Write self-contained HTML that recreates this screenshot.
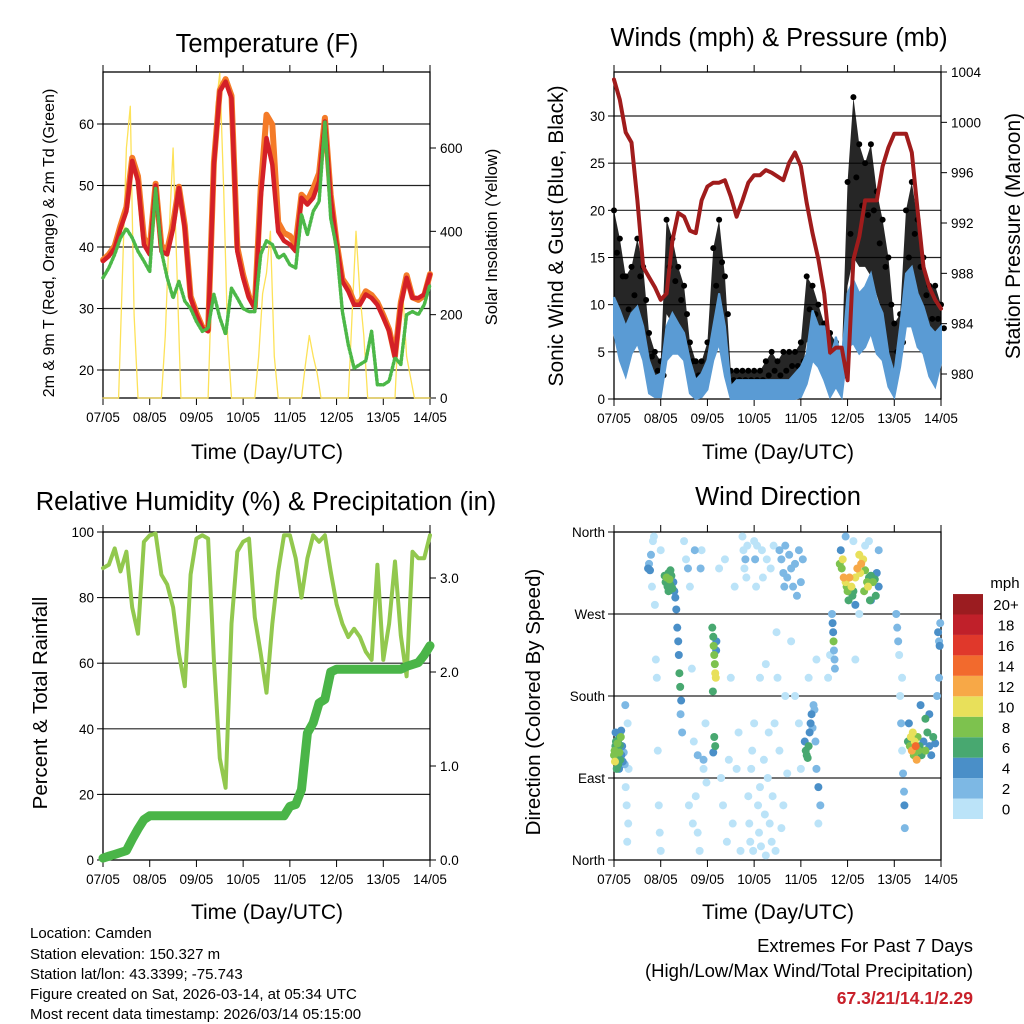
<!DOCTYPE html>
<html><head><meta charset="utf-8"><style>
html,body{margin:0;padding:0;background:#fff;}
svg{display:block;font-family:"Liberation Sans",Arial,sans-serif;}
</style></head><body>
<svg id="chart" width="1024" height="1024" viewBox="0 0 1024 1024" xmlns="http://www.w3.org/2000/svg">
<rect width="1024" height="1024" fill="#fff"/>
<text x="267" y="52" font-size="25.5" text-anchor="middle">Temperature (F)</text>
<text x="779" y="46" font-size="25.5" text-anchor="middle">Winds (mph) &amp; Pressure (mb)</text>
<text x="266" y="510" font-size="25.5" text-anchor="middle">Relative Humidity (%) &amp; Precipitation (in)</text>
<text x="778" y="505" font-size="25.5" text-anchor="middle">Wind Direction</text>
<text transform="translate(54,243) rotate(-90)" font-size="16" text-anchor="middle">2m &amp; 9m T (Red, Orange) &amp; 2m Td (Green)</text>
<text transform="translate(497,237) rotate(-90)" font-size="16.5" text-anchor="middle">Solar Insolation (Yellow)</text>
<text transform="translate(563,236) rotate(-90)" font-size="21" text-anchor="middle">Sonic Wind &amp; Gust (Blue, Black)</text>
<text transform="translate(1020,236) rotate(-90)" font-size="21" text-anchor="middle">Station Pressure (Maroon)</text>
<text transform="translate(47,703) rotate(-90)" font-size="20.5" text-anchor="middle">Percent &amp; Total Rainfall</text>
<text transform="translate(540,702) rotate(-90)" font-size="20.5" text-anchor="middle">Direction (Colored By Speed)</text>
<text x="267" y="459" font-size="21" text-anchor="middle">Time (Day/UTC)</text>
<text x="778" y="459" font-size="21" text-anchor="middle">Time (Day/UTC)</text>
<text x="267" y="919" font-size="21" text-anchor="middle">Time (Day/UTC)</text>
<text x="778" y="919" font-size="21" text-anchor="middle">Time (Day/UTC)</text>
<g font-size="15">
<text x="30" y="938">Location: Camden</text>
<text x="30" y="959">Station elevation: 150.327 m</text>
<text x="30" y="979">Station lat/lon: 43.3399; -75.743</text>
<text x="30" y="999">Figure created on Sat, 2026-03-14, at 05:34 UTC</text>
<text x="30" y="1019">Most recent data timestamp: 2026/03/14 05:15:00</text>
</g>
<g font-size="18.5" text-anchor="end">
<text x="973" y="952">Extremes For Past 7 Days</text>
<text x="973" y="977">(High/Low/Max Wind/Total Precipitation)</text>
<text x="973" y="1004" fill="#C8202A" font-weight="bold" font-size="17.5">67.3/21/14.1/2.29</text>
</g>
<text x="1005" y="588" font-size="15" text-anchor="middle">mph</text>
</svg>
<script>
// ---- data (3-hourly, t = index*3 h from 07/05 00 UTC) ----
const dayLabels = ["07/05","08/05","09/05","10/05","11/05","12/05","13/05","14/05"];
const temp2m = [37.7,38.5,39.8,43,45.8,54,50.7,40.4,38.8,50,39.3,38.8,43,49.6,43,31.7,29,26.8,26.3,53.4,65.3,66.9,64.2,39.3,35,31.7,30,48,57.7,53.4,42.5,41,40.4,39.3,48,46.9,48,50.7,60.4,48,40.4,34.4,32.8,30.6,30.6,32.3,31.7,30.6,28.5,26.3,22,30.6,35,31.7,31.7,32.3,35.5];
const temp9m = [37.9,38.8,40.2,43.5,46.5,54.5,51.5,41.5,39.8,50.3,40.2,39.5,43.8,49.8,43.5,32,29.3,27,26.5,53.8,65.5,67.3,64.6,40,35.5,32,30.3,49.5,61.5,59.9,44,42.3,41.8,40.5,48.5,47.5,49.5,52,61,48.5,40.8,34.8,33.4,31,31,32.8,32.2,31,28.9,26.6,22.3,31,35.4,31.8,31.4,32.1,35.6];
const dewpt = [35,36.6,38.8,41.5,43,41.5,39.3,37.7,36,49.6,39.3,35,31.7,34.4,31.2,30,27.9,26.3,26.8,32.3,28.5,25.8,33.3,31.7,30,29.5,29.5,38.8,41,40.4,38.2,38.8,37.1,36.6,45.3,42,45.8,47.4,60.4,44.7,39.8,29.5,24.1,20.3,20.9,21.5,26.3,17.6,17.6,18.2,22,20.9,29,29.5,29,30.6,33.9];
const solar = [0,0,0,0,0,300,600,700,200,0,0,0,0,0,0,0,150,400,600,300,0,0,0,0,0,0,0,0,300,700,780,500,150,0,0,0,0,0,0,0,100,250,300,400,100,0,0,0,0,0,0,0,80,150,100,60,0,0,0,0,0,0,0,0,200,400,250,150,0,0,0,0,0,0,0,0,200,250,100,50,0,0,0,0,0]; // 2-hourly
const pressure = [1003.4,1001.8,999.2,998.4,993.8,988.5,987.7,986.9,985.9,986.4,990.6,992.8,992.5,991.4,991.2,993.8,994.9,995.2,995.2,995.4,994.1,992.5,993.8,995.2,995.8,995.8,996.2,996,995.7,995.4,996.8,997.6,996.5,993.6,991.2,989.1,986.4,981.7,982.1,982.1,979.5,989.1,990.9,993.8,993.8,993.8,996.5,998,999.1,999.1,999.1,997.6,993,988.5,986.9,985.9,985.2];
const windHi = [10.8,9.4,7.7,9.1,9.8,7.7,4.1,2.4,2.7,7.7,9.1,8,7,4.1,2,2.7,4.1,7.7,11.2,7.7,1.3,2,2,2,2,2,2,2,2,2,2,2.7,3.4,4.8,9.4,7.7,7.7,4.1,6.6,4.1,11.2,12.6,11.2,11.9,13.3,10.5,9.1,4.8,2.7,7.7,13.3,14,11.2,9.8,7.7,7,7.7];
const windLo = [7,4.1,2.4,4.8,5.9,4.1,0.6,0.2,0.2,4.1,4.8,4.8,4.1,0.6,0,0.2,1,4.1,5.9,2.4,0,0,0,0,0,0,0,0,0,0,0,0,0.2,1.6,4.1,3.4,2,0.2,1.3,0.2,5.5,5.9,4.8,5.5,7,4.8,4.1,1.3,0.2,3.4,7.7,7.7,5.5,4.8,2.4,1.3,3.8];
const gustHi = [20,17,13,14,17,14,7,5,4,19,17,14,12,6,4,4,6,16,19,13,3,3,3,3,3,3,4,5,4,5,5,5,6,13,12,10,8,7,6,4,23,32,27,25,27,22,19,15,8,9,20,23,19,15,12,12,10];
const gustLo = [11,9,6,8,9,7,2,1,1,9,8,7,6,2,1,1,2,8,10,5,1,1,1,1,1,1,1,1,1,1,2,2,2,6,6,4,3,2,3,1,12,15,14,14,13,11,9,5,2,3,10,12,9,7,5,5,5];
const rhPct = [89,90,95,88,94,77,69,97,99,99.5,87,84,77,63,53,87,98,99,98,61,31,22,72,94,97,98,74,63,51,72,88,99,99,92,80,92,99,97,99,88,78,72,68,70.5,68,63.5,61,90,61,72,91,68.5,56,94,92,92,99];
const rainIn = [0.02,0.04,0.06,0.08,0.1,0.22,0.33,0.43,0.47,0.47,0.47,0.47,0.47,0.47,0.47,0.47,0.47,0.47,0.47,0.47,0.47,0.47,0.47,0.47,0.47,0.47,0.47,0.47,0.47,0.47,0.47,0.47,0.57,0.59,0.75,1.35,1.46,1.67,1.71,2.0,2.03,2.03,2.03,2.03,2.03,2.03,2.03,2.03,2.03,2.03,2.03,2.03,2.06,2.08,2.1,2.18,2.28];
const dirObs = [[0,115,9],[0.3,120,8],[0.5,108,10],[0.7,125,7],[1,130,7],[1.2,118,6],[1.5,112,7],[1.8,128,8],[2,122,6],[2.2,105,7],[2.5,133,7],[2.8,118,8],[3,126,7],[3.2,110,6],[3.5,135,8],[1.4,100,6],[2.6,100,5],[3.8,115,5],[4.2,125,4],[4.5,108,4],[3.7,142,4],[0.8,140,4],[5,118,3],[5.5,105,2],
[6,80,1],[6.5,60,1],[7,150,1],[7.3,40,1],[5.8,170,2],[6.8,20,1],[7.5,100,1],
[17.5,320,4],[18,325,3],[18.5,318,4],[19,335,2],[19.5,300,1],[20,350,1],[20.5,355,1],[21,280,1],[21.5,220,1],[22,200,1],[22.5,120,1],[23,60,1],[23.5,30,1],[24,10,1],[24,340,1],
[26,312,6],[26.5,305,7],[27,310,8],[27.5,300,7],[28,315,7],[28.5,308,8],[29,302,7],[29.5,312,6],[30,298,6],[30.5,305,5],[31,295,4],[31.5,288,4],[28,295,6],[29,318,6],
[32,275,4],[32.5,255,4],[33,240,4],[33.3,225,5],[33.6,205,6],[34,190,6],[34.5,175,4],[34.2,160,3],[35,140,3],
[36,350,1],[37,330,1],[38,320,2],[39,300,1],[40,210,1],[41,130,1],[42,70,1],[43,30,1],[44,10,1],[45,340,1],[46,100,1],[47,150,1],[44.5,320,2],[46,110,2],[47.5,85,1],[38.5,60,1],[40.5,40,1],[43,115,3],[41.5,340,2],
[50.5,255,6],[51,245,7],[51.2,235,8],[51.5,225,9],[51.8,215,9],[52,205,10],[52.3,200,10],[52.6,240,5],[52,125,6],[51.5,135,6],[51,118,5],[52.5,230,4],[50.8,185,6],
[54,320,1],[55,90,1],[56,60,1],[57,330,1],[58,20,1],[59,110,1],[60,200,1],[61,40,1],[62,300,1],[63,100,1],[64,140,1],[65,10,1],
[66,355,1],[66.5,340,1],[67,320,1],[67.5,330,2],[68,310,1],[68.5,345,1],[69,70,1],[69.5,40,1],[70,20,1],[70.5,100,1],[71,120,1],[71.5,10,1],[72,350,1],[72.5,330,2],[73,300,1],[73.5,345,1],[74,60,1],[74.5,30,1],[75,80,1],[75.5,15,1],[76,340,1],[76.5,310,1],[77,110,1],[77.5,50,1],[78,5,1],[78.5,330,1],[79,90,1],[79.5,140,1],[80,40,1],[80.5,320,1],[81,20,1],[81.5,70,1],[82,345,1],[82.5,150,1],[83,10,1],[83.5,250,1],[84,200,1],[85,120,1],[86,35,1],[87,60,1],[88,180,1],[89,95,1],[72,150,1],[75,200,1],[78,215,1],
[85,340,3],[86,330,2],[87,315,3],[87.5,300,3],[88,345,2],[89,310,3],[90,335,2],[91,320,3],[92,300,3],[93,325,2],[94,290,2],[95,340,3],[96,305,2],[97,330,2],[91,240,1],[93,180,1],[95,150,1],[96,100,1],
[98,130,4],[98.5,120,6],[99,115,7],[99.5,112,6],[100,125,6],[100.5,140,4],[101,150,5],[101.5,160,4],[102,145,3],[102.5,170,3],[103,165,2],[103.5,130,2],[104,100,2],[105,80,4],[106,60,2],[104,220,1],[100,200,1],[105,40,1],
[112,270,3],[112.3,260,4],[112.6,250,5],[112.8,240,8],[113,230,3],[113.3,220,2],[113.5,210,2],[111,225,1],[110,200,1],
[116,325,8],[117,320,9],[117.5,330,10],[118,310,12],[119,305,10],[119.5,300,8],[120,295,9],[121,310,12],[122,300,10],[122.5,290,6],[123,295,7],[124,310,10],[125,320,12],[126,335,11],[126.5,315,10],[127,325,12],[128,330,10],[129,318,8],[130,305,9],[130.5,300,10],[131,310,7],[132,312,6],[133,305,8],[134,308,6],[135,315,5],[136,300,4],[134.5,290,6],[131.5,285,6],[120.5,285,6],[116.5,340,4],[124,280,5],[128.5,295,9],
[119,355,2],[123,350,1],[126,270,1],[129,345,1],[131,350,1],[136,340,2],[132,285,4],[124,220,1],
[145,270,3],[145.5,255,2],[146,240,2],[146.5,225,1],[147,180,1],[147.5,150,2],[148,120,1],[148.5,95,2],[149,75,3],[149.2,60,4],[149.4,35,2],[148,200,1],
[151,130,6],[152,125,8],[152.5,135,10],[153,120,12],[153.5,140,11],[154,115,8],[154.5,130,10],[155,125,14],[155.5,110,12],[156,135,9],[156.5,120,8],[157,125,6],[158,115,7],[159,130,5],[160,120,8],[161,140,6],[162,125,4],[163,115,5],[164,135,6],[165,128,4],[151.5,150,4],[157.5,170,5],[160,155,6],[162,160,4],
[166.5,250,4],[167,240,3],[167.3,235,4],[167.6,260,3],[166,180,3],[167,200,2]];
const speedColors = ["#BBE3F8","#7DB8E4","#4A8FC8","#48A870","#7DC24E","#E8E05A","#F7A847","#F26A2D","#E0382B","#C0202A","#9B1C20"];
const speedLabels = ["0","2","4","6","8","10","12","14","16","18","20+"];
const tempTicks = [20,30,40,50,60];
const solarTicks = [0,200,400,600];
const windTicks = [0,5,10,15,20,25,30];
const presTicks = [980,984,988,992,996,1000,1004];
const rhTicks = [0,20,40,60,80,100];
const rainTicks = [0,1,2,3];
const dirTicks = [0,90,180,270,360];
const dirLabels = ["North","East","South","West","North"];

const svg = document.getElementById('chart');
const NS = 'http://www.w3.org/2000/svg';
function mk(tag, attrs, parent){const e=document.createElementNS(NS,tag);for(const k in attrs)e.setAttribute(k,attrs[k]);(parent||svg).appendChild(e);return e;}
function lin(d0,d1,p0,p1){return v=>p0+(v-d0)/(d1-d0)*(p1-p0);}

function frame(name,x0,x1,y0,y1,ly,lticks,lfmt,ry,rticks,rfmt,grid){
  const g=mk('g',{});
  
  
  const xs=lin(0,168,x0,x1);
  grid.forEach(v=>{const y=ly(v);if(y>y0+1&&y<y1-1){const l=mk('line',{x1:x0,x2:x1,y1:y,y2:y,stroke:'#222','stroke-width':1.2},g);
    
    }});
  mk('rect',{x:x0,y:y0,width:x1-x0,height:y1-y0,fill:'none',stroke:'#000','stroke-width':1.3},g);
  dayLabels.forEach((d,i)=>{const x=xs(i*24);
    mk('line',{x1:x,x2:x,y1:y1,y2:y1+7,stroke:'#000'},g);mk('line',{x1:x,x2:x,y1:y0,y2:y0-7,stroke:'#000'},g);
    const t=mk('text',{x:x,y:y1+24,'font-size':13.5,'text-anchor':'middle'},g);t.textContent=d;
    
    });
  lticks.forEach((v,i)=>{const y=ly(v);mk('line',{x1:x0-6,x2:x0,y1:y,y2:y,stroke:'#000'},g);
    const t=mk('text',{x:x0-9,y:y+5,'font-size':13.5,'text-anchor':'end'},g);t.textContent=lfmt(v,i);
    
    });
  if(ry){rticks.forEach((v,i)=>{const y=ry(v);mk('line',{x1:x1,x2:x1+6,y1:y,y2:y,stroke:'#000'},g);
    const t=mk('text',{x:x1+10,y:y+5,'font-size':13.5},g);t.textContent=rfmt(v);
    
    });}
  return xs;
}
function poly(pts,attrs,name){const p=mk('polyline',Object.assign({points:pts.map(p=>p[0].toFixed(1)+','+p[1].toFixed(1)).join(' '),fill:'none','stroke-linejoin':'round','stroke-linecap':'round'},attrs));
  
  return p;}

// Panel 1 temperature
const ty=lin(20,60,370,124), sy=lin(0,600,398,148);
const xs1=frame('temperature',103,430,72,398,ty,tempTicks,v=>v,sy,solarTicks,v=>v,tempTicks);
poly(solar.map((v,i)=>[xs1(i*2),sy(v)]),{stroke:'#FDE258','stroke-width':1.3},'solar-line');
poly(temp9m.map((v,i)=>[xs1(i*3),ty(v)]),{stroke:'#F47B28','stroke-width':6},'temp-9m-line');
poly(temp2m.map((v,i)=>[xs1(i*3),ty(v)]),{stroke:'#D42027','stroke-width':4.5},'temp-2m-line');
poly(dewpt.map((v,i)=>[xs1(i*3),ty(v)]),{stroke:'#4CB848','stroke-width':3.5,'stroke-dasharray':'2 2'},'dewpoint-line');

// Panel 2 winds
const wy=lin(0,30,399,116), py=lin(980,1004,374,72);
const xs2=frame('winds',614,941,72,399,wy,windTicks,v=>v,py,presTicks,v=>v,[5,10,15,20,25,30]);
const gband=gustHi.map((v,i)=>[xs2(i*3),wy(v)]).concat(gustLo.map((v,i)=>[xs2(i*3),wy(v)]).reverse());
const gb=mk('polygon',{points:gband.map(p=>p.join(',')).join(' '),fill:'#000','fill-opacity':0.85});


gustHi.forEach((v,i)=>{
  const c=mk('circle',{cx:xs2(i*3),cy:wy(v),r:3,fill:'#000'});
  
  
  const m=mk('circle',{cx:xs2(i*3+1.5),cy:wy((v+gustLo[i])/2),r:3,fill:'#000'});
  
  });
const wband=windHi.map((v,i)=>[xs2(i*3),wy(v)]).concat(windLo.map((v,i)=>[xs2(i*3),wy(v)]).reverse());
const wb=mk('polygon',{points:wband.map(p=>p.join(',')).join(' '),fill:'#5A9BD4',stroke:'#5A9BD4','stroke-width':2});


poly(pressure.map((v,i)=>[xs2(i*3),py(v)]),{stroke:'#A01C1C','stroke-width':4},'pressure-line');

// Panel 3 RH & rain
const hy=lin(0,100,860,532), ry=lin(0,1,860,766);
const xs3=frame('humidity',103,430,532,860,hy,rhTicks,v=>v,ry,rainTicks,v=>v.toFixed(1),[20,40,60,80]);
poly(rhPct.map((v,i)=>[xs3(i*3),hy(v)]),{stroke:'#92C84E','stroke-width':4},'rh-line');
poly(rainIn.map((v,i)=>[xs3(i*3),ry(v)]),{stroke:'#4AB548','stroke-width':9},'rain-line');

// Panel 4 wind direction
const dy=lin(0,360,860,532);
const xs4=frame('direction',614,941,532,860,dy,dirTicks,(v,i)=>dirLabels[i],null,[],null,[90,180,270]);
const sorted=dirObs.slice().sort((a,b)=>a[2]-b[2]);
sorted.forEach(o=>{const bin=Math.min(10,Math.floor(o[2]/2));
  const c=mk('circle',{cx:xs4(o[0]),cy:dy(o[1]),r:4,fill:speedColors[bin]});
  
  });
// colorbar
const cb=mk('g',{});


speedColors.forEach((c,i)=>{const y=819-(i+1)*20.45;
  const r=mk('rect',{x:953,y:y,width:30,height:20.45,fill:c},cb);
  
  
  const t=mk('text',{x:1006,y:y+16,'font-size':15,'text-anchor':'middle'},cb);t.textContent=speedLabels[i];
  
  });
</script>
</body></html>
